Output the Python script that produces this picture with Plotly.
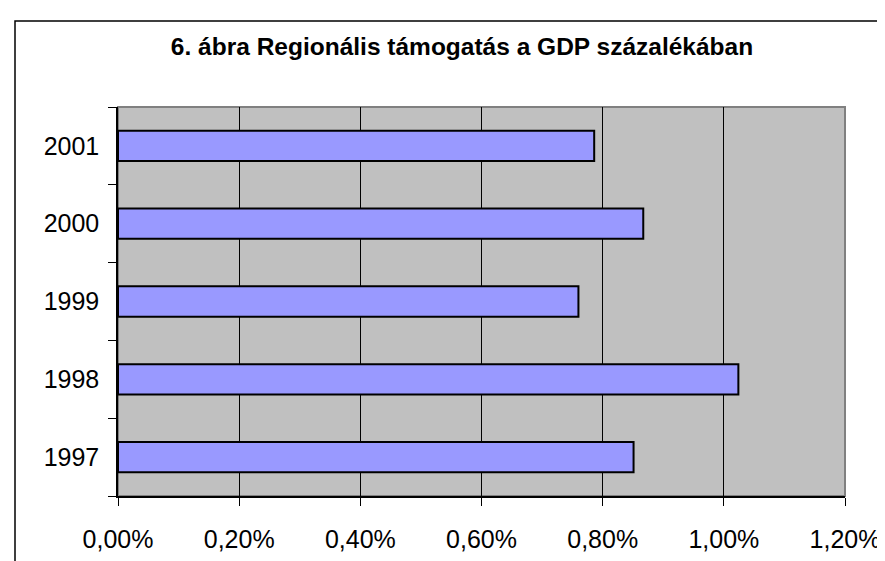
import plotly.graph_objects as go

years = ["1997", "1998", "1999", "2000", "2001"]
values = [0.00851, 0.01024, 0.00760, 0.00867, 0.00786]
x_ticks = [0, 0.002, 0.004, 0.006, 0.008, 0.010, 0.012]
title_text = "6. ábra Regionális támogatás a GDP százalékában"

W, H = 885, 561
L, R, T, B = 110, 48, 99, 73
pw, ph = W - L - R, H - T - B

fig = go.Figure(go.Bar(
    x=values, y=years, orientation="h",
    marker=dict(color="#9999FF", line=dict(color="#000000", width=2)),
    width=0.39,
))

font = "Liberation Sans, Arial, sans-serif"
fig.update_layout(
    width=W, height=H,
    margin=dict(l=L, r=R, t=T, b=B),
    paper_bgcolor="white", plot_bgcolor="#C0C0C0",
    separators=", ",
    showlegend=False,
    font=dict(family=font, size=25, color="black"),
    title=dict(text="<b>" + title_text + "</b>", x=454 / W, xanchor="center",
               y=1 - 38 / H, yanchor="middle",
               font=dict(family=font, size=24.5, color="black")),
    bargap=0.6,
)
fig.update_xaxes(
    range=[0, 0.012], tickvals=x_ticks, tickformat=".2%",
    showgrid=True, gridcolor="#000000", gridwidth=1,
    showline=True, linecolor="#000000", linewidth=1.5,
    ticks="outside", ticklen=8, tickcolor="#000000",
    zeroline=False, ticklabelstandoff=12,
)
fig.update_yaxes(
    type="category", categoryorder="array", categoryarray=years,
    showgrid=False,
    showline=True, linecolor="#000000", linewidth=1.5,
    ticks="outside", ticklen=8, tickcolor="#000000", tickson="boundaries",
    ticklabelstandoff=12,
)
# plot-area frame (gray top/right)
fig.add_shape(type="rect", xref="paper", yref="paper", x0=0, x1=1, y0=0, y1=1,
              line=dict(color="#808080", width=2), layer="below")
# outer chart border (left/top visible)
fig.add_shape(type="rect", xref="paper", yref="paper",
              x0=(7 - L) / pw, x1=1.3, y0=-0.4, y1=(H - B - 13) / ph,
              line=dict(color="#000000", width=1.5))

fig.write_html("out.html")
